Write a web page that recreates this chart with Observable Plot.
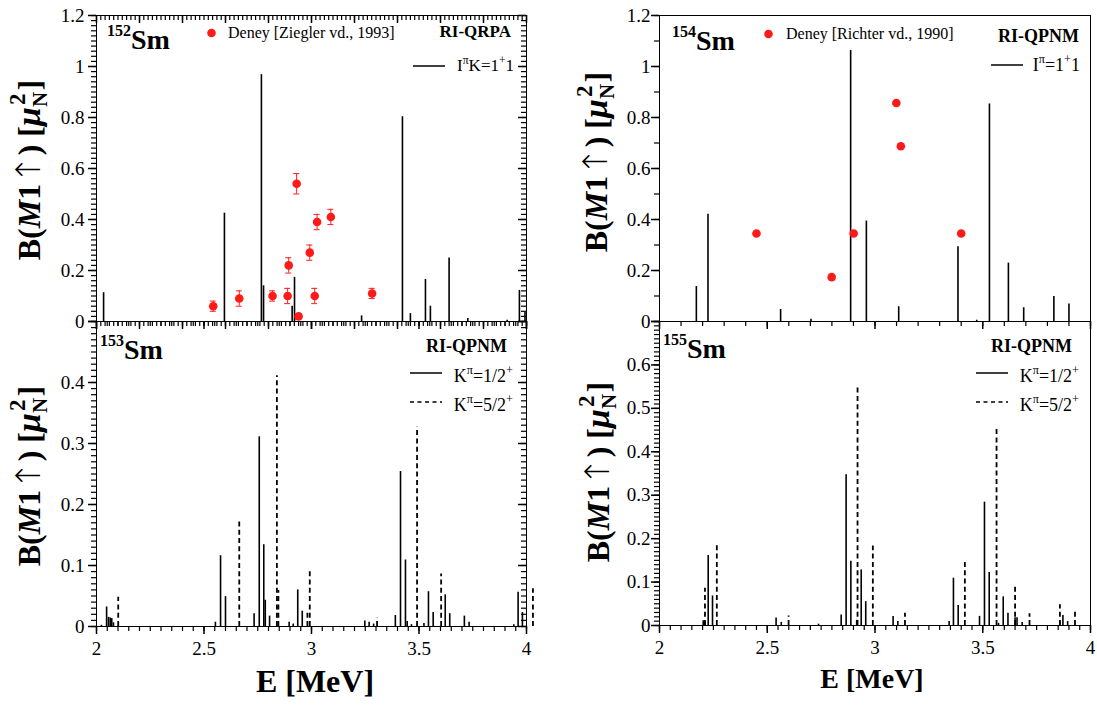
<!DOCTYPE html>
<html>
<head>
<meta charset="utf-8">
<script src="https://cdn.jsdelivr.net/npm/d3@7"></script>
<script src="https://cdn.jsdelivr.net/npm/@observablehq/plot@0.6"></script>
<style>
  body { margin: 0; background: #fff; }
  #wrap { position: relative; width: 1097px; height: 706px; background: #fff; overflow: hidden; }
  #wrap svg { position: absolute; left: 0; top: 0; }
</style>
</head>
<body>
<div id="wrap"></div>
<script>
// ---------------- DATA ----------------
// 152Sm RI-QRPA, I^pi K = 1+1
const sm152E = [2.033, 2.595, 2.767, 2.777, 2.910, 2.921, 3.233, 3.423, 3.460, 3.530, 3.553, 3.640, 3.727, 3.910, 3.967, 3.993];
const sm152B = [0.113, 0.425, 0.968, 0.140, 0.060, 0.173, 0.022, 0.803, 0.031, 0.165, 0.060, 0.249, 0.012, 0.005, 0.122, 0.035];
// 152Sm experiment (Ziegler vd., 1993)
const sm152ExpE   = [2.543, 2.664, 2.819, 2.889, 2.894, 2.931, 2.940, 2.992, 3.015, 3.026, 3.090, 3.282];
const sm152ExpB   = [0.06, 0.09, 0.10, 0.10, 0.22, 0.54, 0.02, 0.27, 0.10, 0.39, 0.41, 0.11];
const sm152ExpErr = [0.02, 0.03, 0.02, 0.03, 0.03, 0.04, 0.01, 0.03, 0.03, 0.03, 0.03, 0.02];

// 154Sm RI-QPNM, I^pi = 1+1
const sm154E = [2.171, 2.225, 2.562, 2.703, 2.887, 2.960, 3.110, 3.385, 3.472, 3.531, 3.619, 3.690, 3.830, 3.900];
const sm154B = [0.137, 0.421, 0.047, 0.009, 1.063, 0.394, 0.058, 0.293, 0.005, 0.853, 0.229, 0.054, 0.098, 0.069];
// 154Sm experiment (Richter vd., 1990)
const sm154ExpE = [2.450, 2.799, 2.901, 3.099, 3.120, 3.400];
const sm154ExpB = [0.345, 0.174, 0.345, 0.857, 0.687, 0.345];

// 153Sm RI-QPNM, K^pi = 1/2+ (solid) and 5/2+ (dashed)
const sm153HalfE = [2.023, 2.047, 2.056, 2.064, 2.071, 2.079, 2.553, 2.577, 2.600, 2.733, 2.757, 2.778, 2.785, 2.805, 2.896, 2.915, 2.936, 2.957, 3.248, 3.268, 3.289, 3.390, 3.414, 3.437, 3.445, 3.465, 3.523, 3.544, 3.566, 3.622, 3.643, 3.711, 3.733, 3.941, 3.961, 3.981];
const sm153HalfB = [0.002, 0.032, 0.015, 0.014, 0.013, 0.006, 0.007, 0.116, 0.049, 0.021, 0.311, 0.134, 0.043, 0.017, 0.007, 0.004, 0.060, 0.025, 0.009, 0.007, 0.004, 0.018, 0.254, 0.109, 0.008, 0.003, 0.005, 0.057, 0.023, 0.052, 0.021, 0.017, 0.007, 0.003, 0.056, 0.023];
const sm153FiveE = [2.101, 2.664, 2.839, 2.846, 2.981, 2.992, 3.305, 3.491, 3.603, 4.030];
const sm153FiveB = [0.048, 0.176, 0.411, 0.059, 0.023, 0.091, 0.014, 0.327, 0.086, 0.062];

// 155Sm RI-QPNM, K^pi = 1/2+ (solid) and 5/2+ (dashed)
const sm155HalfE = [2.203, 2.212, 2.226, 2.246, 2.541, 2.565, 2.738, 2.843, 2.866, 2.888, 2.915, 2.936, 2.957, 3.084, 3.106, 3.344, 3.364, 3.386, 3.485, 3.508, 3.530, 3.573, 3.595, 3.617, 3.650, 3.659, 3.683, 3.858, 3.872, 3.894];
const sm155HalfB = [0.011, 0.008, 0.161, 0.068, 0.017, 0.007, 0.003, 0.024, 0.347, 0.148, 0.012, 0.128, 0.055, 0.021, 0.009, 0.009, 0.109, 0.046, 0.021, 0.284, 0.122, 0.005, 0.066, 0.028, 0.018, 0.018, 0.007, 0.010, 0.023, 0.009];
const sm155FiveE = [2.211, 2.266, 2.599, 2.919, 2.990, 3.139, 3.417, 3.564, 3.650, 3.717, 3.858, 3.928];
const sm155FiveB = [0.086, 0.187, 0.022, 0.547, 0.183, 0.028, 0.147, 0.455, 0.093, 0.027, 0.048, 0.033];

// Tick labels
const xTickLabels = [2, 2.5, 3, 3.5, 4];
const yTicksTop = [0, 0.2, 0.4, 0.6, 0.8, 1, 1.2];
const yTicks153 = [0, 0.1, 0.2, 0.3, 0.4];
const yTicks155 = [0, 0.1, 0.2, 0.3, 0.4, 0.5, 0.6];

// ---------------- RENDER ----------------
const W = 1097, H = 706;
const serif = "'Liberation Serif','Times New Roman',Times,serif";
const RED = "#ff1a1a";
const root = document.getElementById("wrap");
const zip = (E, B) => E.map((e, i) => ({E: e, B: B[i]}));
const steps = (a, b, s) => d3.range(0, Math.round((b - a) / s) + 1).map(i => +(a + i * s).toFixed(4));
const MAJ = 8, MIN = 5;

function panel(cfg) {
  const [L, R, T, Bm] = cfg.frame;
  const [y0, y1] = cfg.yDomain;
  const marks = [];
  const tkMaj = {stroke: "black", strokeWidth: 1.5};
  const tkMin = {stroke: "black", strokeWidth: 1.2};
  if (cfg.yLabels) marks.push(Plot.axisY(cfg.yLabels, {anchor: "left", tickSize: 0, tickPadding: cfg.yPad, tickFormat: d => String(d), fontSize: 19, fill: "black", label: null}));
  if (cfg.xLabels) marks.push(Plot.axisX(cfg.xLabels, {anchor: "bottom", tickSize: 0, tickPadding: 15, tickFormat: d => String(d), fontSize: 19, fill: "black", label: null}));
  const yTick = (vals, at, len, st) => Plot.ruleY(vals.map(v => ({v, at})), {y: "v", x1: "at", x2: "at", insetLeft: -len, insetRight: 0, ...st});
  const xTick = (vals, at, len, st) => Plot.ruleX(vals.map(v => ({v, at})), {x: "v", y1: "at", y2: "at", insetBottom: -len, insetTop: 0, ...st});
  // outward ticks on left and bottom
  marks.push(yTick(cfg.yMajor, 2, MAJ, tkMaj), yTick(cfg.yMinor, 2, MIN, tkMin));
  marks.push(xTick(cfg.xMajor, y0, MAJ, tkMaj), xTick(cfg.xMinor, y0, MIN, tkMin));
  // inward mirror ticks on right and top
  if (cfg.mirror) {
    marks.push(yTick(cfg.yMajor, 4, MAJ, tkMaj), yTick(cfg.yMinor, 4, MIN, tkMin));
    marks.push(xTick(cfg.xMajor, y1, MAJ, tkMaj), xTick(cfg.xMinor, y1, MIN, tkMin));
  }
  if (cfg.solid) marks.push(Plot.ruleX(cfg.solid, {x: "E", y1: 0, y2: "B", stroke: "black", strokeWidth: 1.6}));
  if (cfg.dashed) marks.push(Plot.ruleX(cfg.dashed, {x: "E", y1: 0, y2: "B", stroke: "black", strokeWidth: 1.8, strokeDasharray: "5,3.3"}));
  if (cfg.exp) {
    if (cfg.exp[0].err != null) {
      marks.push(Plot.ruleX(cfg.exp, {x: "E", y1: d => d.B - d.err, y2: d => d.B + d.err, stroke: RED, strokeWidth: 1}));
      marks.push(Plot.ruleY(cfg.exp, {y: d => d.B + d.err, x1: "E", x2: "E", insetLeft: -3, insetRight: -3, stroke: RED, strokeWidth: 1}));
      marks.push(Plot.ruleY(cfg.exp, {y: d => d.B - d.err, x1: "E", x2: "E", insetLeft: -3, insetRight: -3, stroke: RED, strokeWidth: 1}));
    }
    marks.push(Plot.dot(cfg.exp, {x: "E", y: "B", r: 4.3, fill: RED, stroke: "none"}));
  }
  marks.push(Plot.frame({stroke: "black", strokeWidth: 1}));
  const svg = Plot.plot({
    width: W, height: H,
    marginLeft: L, marginRight: W - R, marginTop: T, marginBottom: H - Bm,
    x: {domain: [2, 4], axis: null},
    y: {domain: cfg.yDomain, axis: null},
    style: {background: "transparent", fontFamily: serif, overflow: "visible"},
    marks
  });
  root.appendChild(svg);
  return d3.select(svg);
}

function rich(g, x, y, parts, {size, anchor = "start", weight = "normal", transform = null}) {
  const t = g.append("text").attr("x", x).attr("y", y)
    .attr("font-family", serif).attr("font-size", size).attr("font-weight", weight)
    .attr("text-anchor", anchor).attr("fill", "black");
  if (transform) t.attr("transform", transform);
  let shift = 0;
  for (const p of parts) {
    const s = t.append("tspan").text(p.t);
    const target = p.sup ? -(p.rise ?? size * 0.42) : p.sub ? (p.drop ?? size * 0.22) : 0;
    if (target !== shift) { s.attr("dy", target - shift); shift = target; }
    if (p.sup || p.sub) s.attr("font-size", p.fs ?? size * 0.68);
    else if (p.fs) s.attr("font-size", p.fs);
    if (p.family) s.attr("font-family", p.family);
    if (p.italic) s.attr("font-style", "italic");
    if (p.weight) s.attr("font-weight", p.weight);
    if (p.dx) s.attr("dx", p.dx);
  }
  return t;
}

function yTitle(g, x, y) {
  rich(g, 0, 0, [
    {t: "B("}, {t: "M", italic: true}, {t: "1"},
    {t: "\u2191", weight: "200", fs: 34, family: "'DejaVu Sans','DejaVu Serif',sans-serif"},
    {t: ") ["},
    {t: "\u03bc", italic: true, fs: 34}, {t: "N", sub: true, drop: 7, fs: 21},
    {t: "2", sup: true, rise: 15, fs: 23, dx: -13}, {t: "]", dx: 3}
  ], {size: 32, anchor: "middle", weight: "bold", transform: `translate(${x},${y}) rotate(-90)`});
}

function isotope(g, x, y, mass) {
  rich(g, x, y, [{t: mass, sup: true, rise: 13, fs: 16}, {t: "Sm"}], {size: 28, weight: "bold"});
}

function legendLine(g, x1, x2, y, dashed) {
  const l = g.append("line").attr("x1", x1).attr("x2", x2).attr("y1", y).attr("y2", y)
    .attr("stroke", "black").attr("stroke-width", 1.5);
  if (dashed) l.attr("stroke-dasharray", "4,3.5");
}

function legendDot(g, x, y) {
  g.append("circle").attr("cx", x).attr("cy", y).attr("r", 4.3).attr("fill", RED);
}

// ---- 152Sm (top left)
const g1 = panel({
  frame: [96, 526, 15, 321], yDomain: [0, 1.2],
  yLabels: yTicksTop, yPad: 12, yMajor: yTicksTop, yMinor: steps(0, 1.2, 0.02),
  xMajor: steps(2, 4, 0.2), xMinor: steps(2, 4, 0.02), mirror: true,
  solid: zip(sm152E, sm152B),
  exp: sm152ExpE.map((e, i) => ({E: e, B: sm152ExpB[i], err: sm152ExpErr[i]}))
});
isotope(g1, 107, 49, "152");
legendDot(g1, 211.5, 33);
rich(g1, 228, 38, [{t: "Deney [Ziegler vd., 1993]"}], {size: 16});
rich(g1, 511, 37, [{t: "RI-QRPA"}], {size: 17, weight: "bold", anchor: "end"});
legendLine(g1, 413, 445, 66);
rich(g1, 514, 71, [{t: "I"}, {t: "\u03c0", sup: true}, {t: "K=1"}, {t: "+", sup: true}, {t: "1"}], {size: 17, anchor: "end"});
yTitle(g1, 40, 170);

// ---- 153Sm (bottom left)
const g2 = panel({
  frame: [96, 526, 321, 626], yDomain: [0, 0.5],
  yLabels: yTicks153, yPad: 12, yMajor: steps(0, 0.5, 0.1), yMinor: steps(0, 0.5, 0.01),
  xLabels: xTickLabels, xMajor: xTickLabels, xMinor: steps(2, 4, 0.05), mirror: true,
  solid: zip(sm153HalfE, sm153HalfB), dashed: zip(sm153FiveE, sm153FiveB)
});
isotope(g2, 100, 359, "153");
rich(g2, 507, 352, [{t: "RI-QPNM"}], {size: 18, weight: "bold", anchor: "end"});
legendLine(g2, 410, 442, 373);
rich(g2, 513, 382, [{t: "K"}, {t: "\u03c0", sup: true}, {t: "=1/2"}, {t: "+", sup: true}], {size: 18, anchor: "end"});
legendLine(g2, 410, 442, 402, true);
rich(g2, 513, 411, [{t: "K"}, {t: "\u03c0", sup: true}, {t: "=5/2"}, {t: "+", sup: true}], {size: 18, anchor: "end"});
yTitle(g2, 40, 476);
g2.append("text").attr("x", 315).attr("y", 692).attr("text-anchor", "middle")
  .attr("font-family", serif).attr("font-size", 32).attr("font-weight", "bold").text("E [MeV]");

// ---- 154Sm (top right)
const g3 = panel({
  frame: [659, 1090, 15, 321], yDomain: [0, 1.2],
  yLabels: yTicksTop, yPad: 9, yMajor: yTicksTop, yMinor: steps(0, 1.2, 0.1),
  xMajor: steps(2, 4, 0.5), xMinor: steps(2, 4, 0.1), mirror: false,
  solid: zip(sm154E, sm154B),
  exp: zip(sm154ExpE, sm154ExpB)
});
isotope(g3, 672, 50, "154");
legendDot(g3, 768.5, 34);
rich(g3, 786, 39, [{t: "Deney [Richter vd., 1990]"}], {size: 16});
rich(g3, 1079, 42, [{t: "RI-QPNM"}], {size: 18, weight: "bold", anchor: "end"});
legendLine(g3, 991, 1023, 65);
rich(g3, 1080, 71, [{t: "I"}, {t: "\u03c0", sup: true}, {t: "=1"}, {t: "+", sup: true}, {t: "1"}], {size: 18, anchor: "end"});
yTitle(g3, 607, 162);

// ---- 155Sm (bottom right)
const g4 = panel({
  frame: [659, 1090, 321, 625], yDomain: [0, 0.7],
  yLabels: yTicks155, yPad: 9, yMajor: steps(0, 0.7, 0.1), yMinor: steps(0, 0.7, 0.01),
  xLabels: xTickLabels, xMajor: xTickLabels, xMinor: steps(2, 4, 0.05), mirror: false,
  solid: zip(sm155HalfE, sm155HalfB), dashed: zip(sm155FiveE, sm155FiveB)
});
isotope(g4, 663, 358, "155");
rich(g4, 1072, 352, [{t: "RI-QPNM"}], {size: 18, weight: "bold", anchor: "end"});
legendLine(g4, 976, 1008, 373);
rich(g4, 1079, 382, [{t: "K"}, {t: "\u03c0", sup: true}, {t: "=1/2"}, {t: "+", sup: true}], {size: 18, anchor: "end"});
legendLine(g4, 976, 1008, 402, true);
rich(g4, 1079, 411, [{t: "K"}, {t: "\u03c0", sup: true}, {t: "=5/2"}, {t: "+", sup: true}], {size: 18, anchor: "end"});
yTitle(g4, 609, 472);
g4.append("text").attr("x", 872).attr("y", 688).attr("text-anchor", "middle")
  .attr("font-family", serif).attr("font-size", 28).attr("font-weight", "bold").text("E [MeV]");
</script>
</body>
</html>
